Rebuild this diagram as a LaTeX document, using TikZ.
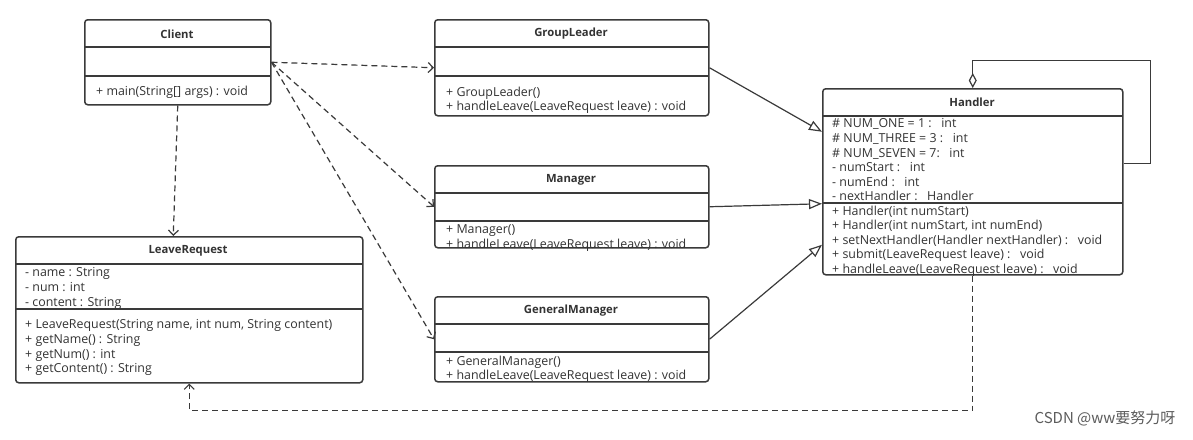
\documentclass[tikz,border=0pt]{standalone}
\usepackage{fontspec}
\setmainfont{Open Sans}
\newfontfamily\cjk{Noto Sans CJK SC}
\usepackage{tikz}
\usetikzlibrary{arrows.meta}
\definecolor{umlline}{HTML}{3A3A3A}
\definecolor{umltext}{HTML}{333333}

\begin{document}
\begin{tikzpicture}[x=1pt, y=-1pt,
  box/.style={draw=umlline, line width=1.5pt, rounded corners=3pt, fill=white, anchor=north west, inner sep=0pt},
  title/.style={font=\fontsize{11.3}{13}\selectfont\bfseries, text=umltext},
  member/.style={font=\fontsize{12.4}{14.6}\selectfont, text=umltext, anchor=north west, align=left, inner sep=0pt},
  sep/.style={draw=umlline, line width=1.2pt},
  realize/.style={draw=umlline, line width=1.2pt, -{Triangle[open, length=13pt, width=10pt]}},
  uses/.style={draw=umlline, line width=1.2pt, dash pattern=on 6pt off 4pt, -{Straight Barb[length=5pt, width=10pt]}},
  aggr/.style={draw=umlline, line width=1.2pt, -{Diamond[open, length=15pt, width=8pt]}}]
        \useasboundingbox[fill=white] (0,0) rectangle (1193,439);

        % Client
        \node[box, minimum width=186pt, minimum height=85pt] (client) at (84,19) {};
        \node[title] (clientname) at (177,34) {Client};
        \draw[sep] (84,47) -- (270,47);
        \draw[sep] (84,76) -- (270,76);
        \node[member] (clientops) at (96,85.5) {+ main(String[] args) : void};

        % GroupLeader
        \node[box, minimum width=274pt, minimum height=96pt] (leader) at (434,19) {};
        \node[title] (leadername) at (571,34) {GroupLeader};
        \draw[sep] (434,47) -- (708,47);
        \draw[sep] (434,76) -- (708,76);
        \node[member] (leaderops) at (446,86.5) {+ GroupLeader()\\+ handleLeave(LeaveRequest leave) : void};

        % Manager
        \node[box, minimum width=274pt, minimum height=82pt] (manager) at (434,165) {};
        \node[title] (managername) at (571,180) {Manager};
        \draw[sep] (434,193) -- (708,193);
        \draw[sep] (434,221) -- (708,221);
        \node[member] (managerops) at (446,224.5) {+ Manager()\\+ handleLeave(LeaveRequest leave) : void};

        % GeneralManager
        \node[box, minimum width=274pt, minimum height=85pt] (general) at (434,296) {};
        \node[title] (generalname) at (571,311) {GeneralManager};
        \draw[sep] (434,324) -- (708,324);
        \draw[sep] (434,352) -- (708,352);
        \node[member] (generalops) at (446,355.5) {+ GeneralManager()\\+ handleLeave(LeaveRequest leave) : void};

        % Handler
        \node[box, minimum width=300pt, minimum height=186pt] (handler) at (822,88) {};
        \node[title] (handlername) at (972,102) {Handler};
        \draw[sep] (822,116) -- (1122,116);
        \draw[sep] (822,203) -- (1122,203);
        \node[member] (handlerattrs) at (832,118.5) {\# NUM\_ONE = 1 :\ \ \ int\\\# NUM\_THREE = 3 :\ \ \ int\\\# NUM\_SEVEN = 7:\ \ \ int\\- numStart :\ \ \ int\\- numEnd :\ \ \ int\\- nextHandler :\ \ \ Handler};
        \node[member] (handlerops) at (832,205.5) {+ Handler(int numStart)\\+ Handler(int numStart, int numEnd)\\+ setNextHandler(Handler nextHandler) :\ \ \ void\\+ submit(LeaveRequest leave) :\ \ \ void\\+ handleLeave(LeaveRequest leave) :\ \ \ void};

        % LeaveRequest
        \node[box, minimum width=347pt, minimum height=146pt] (request) at (15,236) {};
        \node[title] (requestname) at (188,251) {LeaveRequest};
        \draw[sep] (15,264) -- (362,264);
        \draw[sep] (15,309) -- (362,309);
        \node[member] (requestattrs) at (25,267.5) {- name : String\\- num : int\\- content : String};
        \node[member] (requestops) at (25,319.5) {+ LeaveRequest(String name, int num, String content)\\+ getName() : String\\+ getNum() : int\\+ getContent() : String};

        \draw[realize] (leader.east) -- ([yshift=50pt]handler.west);
        \draw[realize] (manager.east) -- ([yshift=-22pt]handler.west);
        \draw[realize] (general.east) -- ([yshift=-63pt]handler.west);

        \draw[uses] (client.east) -- (leader.west);
        \draw[uses] (client.east) -- (manager.west);
        \draw[uses] (client.east) -- (general.west);
        \draw[uses] (client.south) -- ([xshift=-16pt]request.north);
        \draw[uses] (handler.south) -- ++(0,135) -| (request.south);

        \draw[aggr] ([yshift=18pt]handler.east) -- ++(27,0) -- ++(0,-103) -| (handler.north);

        \node[font=\cjk\fontsize{15}{17}\selectfont, text=umltext!80, anchor=east] (mark) at (1179,418) {CSDN @ww要努力呀};
\end{tikzpicture}
\end{document}
